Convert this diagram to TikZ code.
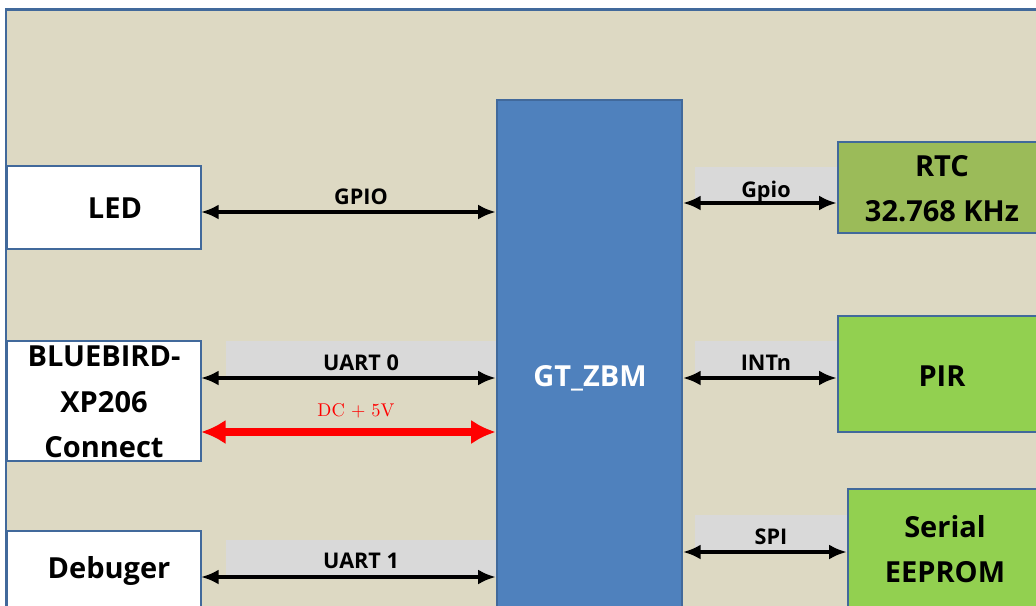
\documentclass[tikz,border=0pt]{standalone}
\usepackage{fontspec}
\setsansfont{Open Sans}
\usepackage{tikz}
\usetikzlibrary{fit}
\usetikzlibrary{positioning}
\usetikzlibrary{arrows.meta}
\usetikzlibrary{calc}

\definecolor{paper}{RGB}{221,217,195}
\definecolor{edge}{RGB}{65,105,155}
\definecolor{chip}{RGB}{79,129,189}
\definecolor{olive}{RGB}{155,187,89}
\definecolor{lime}{RGB}{146,208,80}
\definecolor{bandgrey}{RGB}{217,217,217}

\begin{document}
\begin{tikzpicture}[x=0.02cm,y=-0.02cm,
    box/.style={rectangle, draw=edge, line width=0.05cm, inner sep=0pt, align=center},
    boxtext/.style={font=\sffamily\bfseries\fontsize{16.5}{25.8}\selectfont, align=center},
    band/.style={rectangle, fill=bandgrey, inner sep=0pt},
    tag/.style={font=\sffamily\bfseries\fontsize{12.3}{14}\selectfont, text depth=0pt, inner sep=0pt},
    link/.style={{Latex[length=10pt,width=8.5pt]}-{Latex[length=10pt,width=8.5pt]}, line width=2.5pt},
    power/.style={{Latex[length=14pt,width=14pt]}-{Latex[length=14pt,width=14pt]}, line width=4.5pt, red}]
    \useasboundingbox (0,0) rectangle (1036,606);
    \clip (0,0) rectangle (1036,606);
    % Frame
    \draw[fill=paper, draw=edge, line width=0.06cm] (6,9) rectangle (1100,700);

    % Grey bands under the bus names
    \node[band, fit={(226,341) (497,378)}] (uart0band) {};
    \node[band, fit={(226,540) (497,577)}] (uart1band) {};
    \node[band, fit={(695,167) (838,203)}] (gpioband) {};
    \node[band, fit={(695,341) (838,378)}] (intband) {};
    \node[band, fit={(695,515) (848,552)}] (spiband) {};

    % Define blocks
    \node[box, fill=white, fit={(7,166) (201,249)}] (led) {};
    \node[boxtext] (ledtext) at (115,208) {LED};
    \node[box, fill=white, fit={(7,341) (201,461)}] (bluebird) {};
    \node[boxtext] (bluebirdtext) at (104,402) {BLUEBIRD-\\XP206\\Connect};
    \node[box, fill=white, fit={(7,531) (201,611)}] (debuger) {};
    \node[boxtext] (debugertext) at (109,571) {Debuger};
    \node[box, fill=chip, fit={(497,100) (682,656)}] (zbm) {};
    \node[boxtext, text=white] (zbmtext) at (590,378) {GT\_ZBM};
    \node[box, fill=olive, fit={(838,142) (1046,233)}] (rtc) {};
    \node[boxtext] (rtctext) at (942,189) {RTC\\32.768 KHz};
    \node[box, fill=lime, fit={(838,316) (1046,432)}] (pir) {};
    \node[boxtext] (pirtext) at (942,376) {PIR};
    \node[box, fill=lime, fit={(848,489) (1042,610)}] (eeprom) {};
    \node[boxtext] (eepromtext) at (945,549) {Serial\\EEPROM};

    % Connector heights
    \coordinate (gpioL) at (201,212);
    \coordinate (uart0L) at (201,378);
    \coordinate (dcL) at (201,432);
    \coordinate (uart1L) at (201,577);
    \coordinate (gpioR) at (683,203);
    \coordinate (intR) at (683,378);
    \coordinate (spiR) at (683,552);

    % Draw buses
    \draw[link] (gpioL) -- (gpioL -| zbm.west);
    \draw[link] (uart0L) -- (uart0L -| zbm.west);
    \draw[power] (dcL) -- (dcL -| zbm.west);
    \draw[link] (uart1L) -- (uart1L -| zbm.west);
    \draw[link] (gpioR) -- (gpioR -| rtc.west);
    \draw[link] (intR) -- (intR -| pir.west);
    \draw[link] (spiR) -- (spiR -| eeprom.west);

    % Bus names
    \node[tag] (gpiotag) at (361,197) {GPIO};
    \node[red, font=\fontsize{10.5}{12}\selectfont] (dctag) at (356,411) {DC + 5V};
    \node[tag] (uart0tag) at (361,363) {UART 0};
    \node[tag] (uart1tag) at (361,561) {UART 1};
    \node[tag] (gpiortag) at (766,189) {Gpio};
    \node[tag] (inttag) at (766,363) {INTn};
    \node[tag] (spitag) at (771,537) {SPI};
\end{tikzpicture}
\end{document}
